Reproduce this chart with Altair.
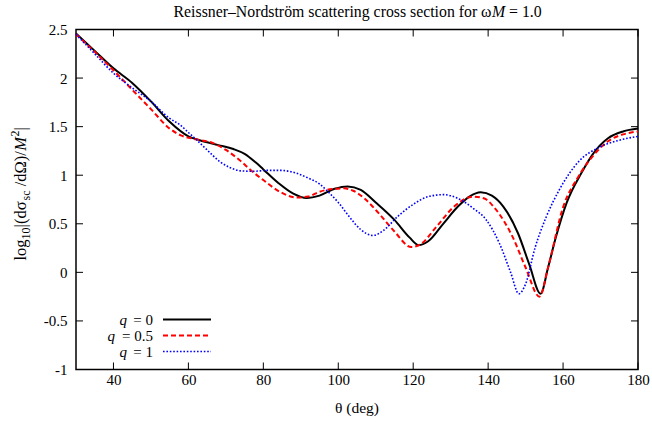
import altair as alt
import pandas as pd

# ---- data ----
theta_q0 = [30, 35, 40, 45, 50, 55, 60, 63, 68, 72, 75, 78, 80, 84, 88, 91.5, 95, 99, 102.5, 106,
            110, 115, 119, 121.5, 124, 128, 132, 135, 138, 141, 144, 148, 151, 154, 156, 158, 161,
            165, 168, 172, 176, 180]
val_q0 = [2.46, 2.28, 2.10, 1.95, 1.76, 1.55, 1.40, 1.36, 1.31, 1.27, 1.22, 1.13, 1.06, 0.92, 0.81,
          0.765, 0.79, 0.86, 0.885, 0.85, 0.72, 0.54, 0.36, 0.28, 0.32, 0.50, 0.68, 0.78, 0.825,
          0.79, 0.68, 0.40, 0.08, -0.22, 0.05, 0.35, 0.72, 1.03, 1.22, 1.38, 1.45, 1.48]

theta_q05 = [30, 35, 40, 45, 50, 55, 58, 62, 66.6, 70, 73.7, 77, 80, 84.4, 89, 92, 95, 99, 101.5,
             104, 107, 111, 115, 119.5, 122, 126, 131, 136, 139, 142, 146.6, 150, 153.7, 156, 160,
             164, 168, 172, 176, 180]
val_q05 = [2.45, 2.27, 2.08, 1.88, 1.68, 1.48, 1.41, 1.37, 1.33, 1.26, 1.155, 1.04, 0.95, 0.83, 0.77,
           0.78, 0.83, 0.86, 0.865, 0.84, 0.76, 0.60, 0.42, 0.26, 0.29, 0.46, 0.68, 0.78, 0.76, 0.65,
           0.36, 0.05, -0.25, 0.05, 0.67, 0.98, 1.20, 1.35, 1.42, 1.45]

theta_q1 = [30, 35, 40, 45, 50, 55, 57.7, 60, 62, 65, 68.4, 71, 74, 77.3, 81, 84.4, 88.9, 92, 95,
            97, 100, 103, 106, 109.3, 112, 116, 120, 124, 128, 132, 136, 139.5, 143, 146, 148.2,
            150, 152.5, 155.5, 159, 164.4, 169.8, 175, 180]
val_q1 = [2.45, 2.25, 2.05, 1.90, 1.76, 1.585, 1.52, 1.44, 1.37, 1.26, 1.14, 1.08, 1.045, 1.04,
          1.05, 1.05, 1.02, 0.97, 0.91, 0.84, 0.72, 0.57, 0.44, 0.38, 0.43, 0.58, 0.70, 0.78, 0.80,
          0.76, 0.66, 0.54, 0.30, 0.0, -0.22, -0.12, 0.25, 0.57, 0.85, 1.15, 1.29, 1.36, 1.40]

x_ticks = [40, 60, 80, 100, 120, 140, 160, 180]
y_ticks = [-1, -0.5, 0, 0.5, 1, 1.5, 2, 2.5]
legend_labels = ["= 0", "= 0.5", "= 1"]

# ---- layout / style ----
W, H = 562, 340
FONT = "Liberation Serif"
FS = 15

xs = alt.Scale(domain=[30, 180], nice=False, zero=False)
ys = alt.Scale(domain=[-1, 2.5], nice=False, zero=False)

ax_x = alt.Axis(values=x_ticks, ticks=False, domain=False, grid=False, labelFont=FONT,
                labelFontSize=FS, labelColor="black", labelPadding=3, title=None,
                labelFlush=False, labelOverlap=False)
ax_y = alt.Axis(values=y_ticks, ticks=False, domain=False, grid=False, labelFont=FONT,
                labelFontSize=FS, labelColor="black", labelPadding=9, title=None,
                labelFlush=False, labelOverlap=False, labelExpr="'' + datum.value")


def series(theta, vals, color, width, dash=None):
    df = pd.DataFrame({"theta": theta, "v": vals})
    kw = dict(color=color, strokeWidth=width, interpolate="monotone")
    if dash:
        kw["strokeDash"] = dash
    return alt.Chart(df).mark_line(**kw).encode(
        x=alt.X("theta:Q", scale=xs, axis=ax_x),
        y=alt.Y("v:Q", scale=ys, axis=ax_y),
    )


one = pd.DataFrame({"a": [0]})


def txt(s, x, y, size=FS, italic=False, align="left", angle=0, baseline="alphabetic"):
    return alt.Chart(one).mark_text(
        text=s, font=FONT, fontSize=size, fontStyle="italic" if italic else "normal",
        align=align, baseline=baseline, angle=angle, color="black"
    ).encode(x=alt.value(x), y=alt.value(y))


layers = []

# inward ticks on all four sides
xt = pd.DataFrame({"t": x_ticks})
yt = pd.DataFrame({"t": y_ticks})
TL = 7
layers.append(alt.Chart(xt).mark_rule(color="black", strokeWidth=1).encode(
    x=alt.X("t:Q", scale=xs, axis=ax_x), y=alt.value(H), y2=alt.value(H - TL)))
layers.append(alt.Chart(xt).mark_rule(color="black", strokeWidth=1).encode(
    x=alt.X("t:Q", scale=xs, axis=ax_x), y=alt.value(0), y2=alt.value(TL)))
layers.append(alt.Chart(yt).mark_rule(color="black", strokeWidth=1).encode(
    y=alt.Y("t:Q", scale=ys, axis=ax_y), x=alt.value(0), x2=alt.value(TL)))
layers.append(alt.Chart(yt).mark_rule(color="black", strokeWidth=1).encode(
    y=alt.Y("t:Q", scale=ys, axis=ax_y), x=alt.value(W), x2=alt.value(W - TL)))

# curves
layers.append(series(theta_q0, val_q0, "#000000", 2))
layers.append(series(theta_q05, val_q05, "#ff0000", 2, [5, 3]))
layers.append(series(theta_q1, val_q1, "#0000ff", 1.6, [1.6, 1.8]))

# legend
leg_y = [290, 306, 322]
leg_style = [("#000000", 2, None), ("#ff0000", 2, [5, 3]), ("#0000ff", 1.6, [1.6, 1.8])]
q_x = [51, 39, 51]
for i in range(3):
    c, w, d = leg_style[i]
    kw = dict(color=c, strokeWidth=w)
    if d:
        kw["strokeDash"] = d
    layers.append(alt.Chart(one).mark_rule(**kw).encode(
        x=alt.value(87), x2=alt.value(135), y=alt.value(leg_y[i])))
    layers.append(txt("q", q_x[i], leg_y[i], italic=True, align="right", baseline="middle"))
    layers.append(txt(legend_labels[i], 77, leg_y[i], align="right", baseline="middle"))

# title
TFS = 15.8
xM = 415.5
TY = -12.5
layers.append(txt("Reissner\u2013Nordstr\u00f6m scattering cross section for \u03c9", xM, TY,
                  size=TFS, align="right"))
layers.append(txt("M", xM + 0.5, TY, size=TFS, italic=True))
layers.append(txt("= 1.0", xM + 0.833 * TFS + 0.25 * TFS + 0.5, TY, size=TFS))

# x axis title
layers.append(txt("\u03b8 (deg)", W / 2, 383, size=15.5, align="center"))

# y axis title (composed, rotated)
YF, YS = 16.5, 12
yb = -50
y0 = 231
pieces = [("log", YF, False, 0, 1.278 * YF), ("10", YS, False, 4, 1.0 * YS),
          ("|(d\u03c3", YF, False, 0, 1.633 * YF), ("sc", YS, False, 4, 0.833 * YS + 0.25 * YF),
          ("/d\u03a9)/", YF, False, 0, 2.157 * YF), ("M", YF, True, 0, 0.86 * YF),
          ("2", YS, False, -7, 0.5 * YS), ("|", YF, False, 0, 0.2 * YF)]
cum = 0.0
for s, sz, it, off, wd in pieces:
    layers.append(txt(s, yb + off, y0 - cum, size=sz, italic=it, angle=270))
    cum += wd

chart = alt.layer(*layers).properties(
    width=W, height=H,
    padding={"left": 76, "top": 29.5, "right": 14, "bottom": 52.5},
    autosize=alt.AutoSizeParams(type="none"),
).configure_view(stroke="black", strokeWidth=1.5)

chart.save("out.html", embed_options={"renderer": "svg", "actions": False})
